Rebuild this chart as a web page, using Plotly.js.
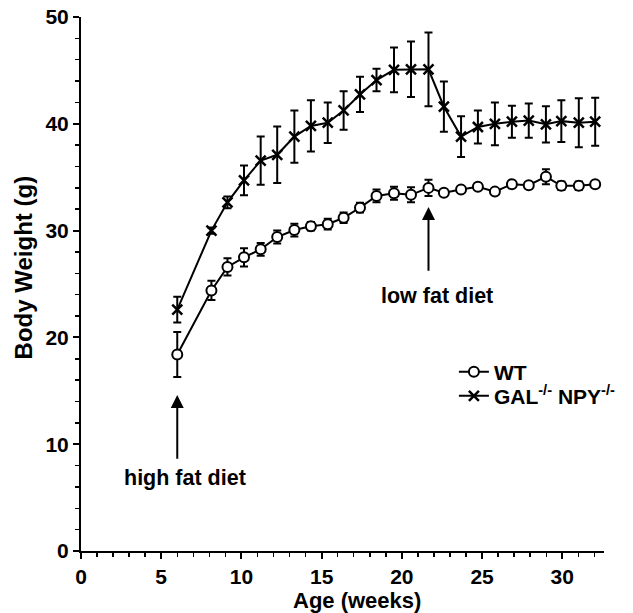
<!DOCTYPE html>
<html><head><meta charset="utf-8">
<script src="https://cdn.plot.ly/plotly-3.0.1.min.js"></script>
<style>html,body{margin:0;padding:0;background:#fff}#chart{width:633px;height:613px}</style>
</head><body><div id="chart"></div>
<script>
// Age (weeks) of each weighing
const age = [6, 8.13, 9.13, 10.16, 11.2, 12.23, 13.3, 14.33, 15.38, 16.37, 17.39, 18.42, 19.51, 20.57, 21.66, 22.62, 23.69, 24.74, 25.8, 26.86, 27.91, 28.98, 29.94, 31.03, 32.05];
// WT body weight (g) mean and error
const wtMean = [18.4, 24.4, 26.6, 27.5, 28.25, 29.4, 30.05, 30.4, 30.6, 31.2, 32.15, 33.25, 33.5, 33.35, 34.0, 33.55, 33.85, 34.1, 33.65, 34.35, 34.25, 35.05, 34.2, 34.2, 34.35];
const wtErr  = [2.1, 0.9, 0.8, 0.85, 0.6, 0.6, 0.6, 0.4, 0.5, 0.5, 0.45, 0.6, 0.6, 0.7, 0.75, 0.2, 0.2, 0.3, 0.2, 0.3, 0.3, 0.7, 0.4, 0.4, 0.2];
// GAL-/- NPY-/- body weight (g) mean and error
const dkoMean = [22.6, 30.0, 32.65, 34.7, 36.55, 37.1, 38.8, 39.8, 40.1, 41.25, 42.75, 44.1, 45.05, 45.1, 45.1, 41.6, 38.8, 39.7, 40.0, 40.2, 40.3, 39.95, 40.25, 40.1, 40.2];
const dkoErr  = [1.2, 0.3, 0.55, 1.4, 2.25, 2.65, 2.45, 2.4, 1.9, 1.8, 1.65, 1.05, 2.1, 2.6, 3.45, 2.35, 1.9, 1.55, 2.0, 1.5, 1.6, 1.7, 1.95, 2.3, 2.25];
const seriesNames = ['WT', 'GAL<sup>-/-</sup> NPY<sup>-/-</sup>'];
const xTickVals = [0, 5, 10, 15, 20, 25, 30];
const yTickVals = [0, 10, 20, 30, 40, 50];
const xTitle = 'Age (weeks)';
const yTitle = 'Body Weight (g)';

const FONT = 'Liberation Sans, Arial, sans-serif';
const bold = (s) => ({family: FONT, size: s, color: '#000', weight: 'bold'});

const traces = [
  {
    x: age, y: wtMean, name: seriesNames[0], type: 'scatter', mode: 'lines+markers', legend: 'legend',
    line: {color: '#000', width: 2},
    marker: {symbol: 'circle', size: 10, color: '#fff', line: {color: '#000', width: 2}},
    error_y: {type: 'data', array: wtErr, visible: true, color: '#000', thickness: 2, width: 4}
  },
  {
    x: age, y: dkoMean, name: seriesNames[1], type: 'scatter', mode: 'lines+markers', legend: 'legend2',
    line: {color: '#000', width: 2},
    marker: {symbol: 'x-thin', size: 10, color: '#000', line: {color: '#000', width: 2.5}},
    error_y: {type: 'data', array: dkoErr, visible: true, color: '#000', thickness: 2, width: 4}
  }
];

const legendBase = {xanchor: 'left', yanchor: 'middle', font: bold(21),
                    bgcolor: 'rgba(0,0,0,0)', itemwidth: 30, tracegroupgap: 0};

const layout = {
  width: 633, height: 613,
  margin: {l: 80.5, r: 22, t: 17, b: 62},
  paper_bgcolor: '#fff', plot_bgcolor: '#fff',
  showlegend: true,
  legend: Object.assign({x: 0.713, y: 0.335}, legendBase),
  legend2: Object.assign({x: 0.713, y: 0.29}, legendBase),
  xaxis: {
    range: [0, 32.6], tickvals: xTickVals, ticks: 'outside', ticklen: 6, tickwidth: 2,
    tickcolor: '#000', showline: true, linecolor: '#000', linewidth: 2,
    showgrid: false, zeroline: false, tickfont: bold(21),
    minor: {dtick: 1, tick0: 0, ticks: 'outside', ticklen: 4, tickwidth: 1.5, tickcolor: '#000', showgrid: false}
  },
  yaxis: {
    range: [0, 50], tickvals: yTickVals, ticks: 'outside', ticklen: 6, tickwidth: 2,
    tickcolor: '#000', showline: true, linecolor: '#000', linewidth: 2,
    showgrid: false, zeroline: false, tickfont: bold(21),
    minor: {dtick: 2, tick0: 0, ticks: 'outside', ticklen: 4, tickwidth: 1.5, tickcolor: '#000', showgrid: false}
  },
  annotations: [
    {x: 0.527, y: -0.092, xref: 'paper', yref: 'paper', text: xTitle, showarrow: false,
     xanchor: 'center', yanchor: 'middle', font: bold(22)},
    {x: -0.110, y: 0.532, xref: 'paper', yref: 'paper', text: yTitle, showarrow: false, textangle: -90,
     xanchor: 'center', yanchor: 'middle', font: bold(24)},
    {x: 6.48, y: 6.84, xref: 'x', yref: 'y', text: 'high fat diet', showarrow: false, font: bold(21.5)},
    {x: 22.2, y: 23.9, xref: 'x', yref: 'y', text: 'low fat diet', showarrow: false, font: bold(21.5)},
    {x: 6, y: 14.6, ax: 6, ay: 8.5, xref: 'x', yref: 'y', axref: 'x', ayref: 'y', text: '',
     showarrow: true, arrowhead: 2, arrowsize: 1.3, arrowwidth: 2, arrowcolor: '#000', standoff: 0},
    {x: 21.66, y: 32.2, ax: 21.66, ay: 26.1, xref: 'x', yref: 'y', axref: 'x', ayref: 'y', text: '',
     showarrow: true, arrowhead: 2, arrowsize: 1.3, arrowwidth: 2, arrowcolor: '#000', standoff: 0}
  ]
};

Plotly.newPlot('chart', traces, layout, {displayModeBar: false, staticPlot: true});
</script>
</body></html>
